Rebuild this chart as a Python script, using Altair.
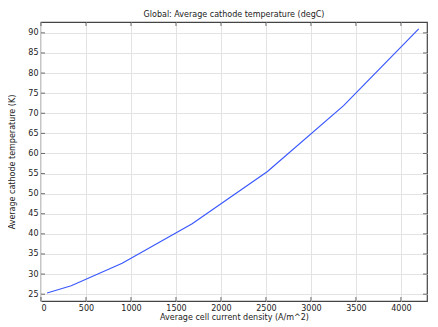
import altair as alt
import pandas as pd

current = [67, 336, 902, 1680, 2517, 3363, 4198]
temperature = [25.3, 27.1, 32.7, 42.5, 55.5, 71.9, 91.0]

x_ticks = [0, 500, 1000, 1500, 2000, 2500, 3000, 3500, 4000]
y_ticks = [25, 30, 35, 40, 45, 50, 55, 60, 65, 70, 75, 80, 85, 90]

df = pd.DataFrame({"x": current, "y": temperature})
xdom = [0, 4290]
ydom = [23.3, 92.7]

xs = alt.Scale(domain=xdom, nice=False, zero=False)
ys = alt.Scale(domain=ydom, nice=False, zero=False)

font = "DejaVu Sans"
W, H = 386, 279

xax = alt.Axis(
    values=x_ticks, title="Average cell current density (A/m^2)", format="d",
    grid=True, gridColor="#e3e3e3", tickSize=0, labelPadding=3, labelOverlap=False,
    domain=False, labelFontSize=8, titleFontSize=8, titleFontWeight="normal",
    titlePadding=1, labelFont=font, titleFont=font, labelColor="#222", titleColor="#222")
yax = alt.Axis(
    values=y_ticks, title="Average cathode temperature (K)",
    grid=True, gridColor="#e3e3e3", tickSize=0, labelPadding=3, labelOverlap=False,
    domain=False, labelFontSize=8, titleFontSize=8, titleFontWeight="normal",
    titleX=-25, labelFont=font, titleFont=font, labelColor="#222", titleColor="#222")

line = alt.Chart(df).mark_line(color="#3a58ff", strokeWidth=1.2).encode(
    x=alt.X("x:Q", scale=xs, axis=xax),
    y=alt.Y("y:Q", scale=ys, axis=yax),
)

xt = pd.DataFrame({"v": x_ticks})
yt = pd.DataFrame({"v": y_ticks})

tk = dict(color="#333", size=4, thickness=1)
tick_bottom = alt.Chart(xt).mark_tick(orient="vertical", yOffset=-2, **tk).encode(
    x=alt.X("v:Q", scale=xs, axis=xax), y=alt.value(H))
tick_top = alt.Chart(xt).mark_tick(orient="vertical", yOffset=2, **tk).encode(
    x=alt.X("v:Q", scale=xs, axis=xax), y=alt.value(0))
tick_left = alt.Chart(yt).mark_tick(orient="horizontal", xOffset=2, **tk).encode(
    y=alt.Y("v:Q", scale=ys, axis=yax), x=alt.value(0))
tick_right = alt.Chart(yt).mark_tick(orient="horizontal", xOffset=-2, **tk).encode(
    y=alt.Y("v:Q", scale=ys, axis=yax), x=alt.value(W))

chart = alt.layer(line, tick_bottom, tick_top, tick_left, tick_right).properties(
    width=W, height=H,
    title=alt.TitleParams("Global: Average cathode temperature (degC)", fontSize=8,
                          font=font, fontWeight="normal", color="#222", offset=3),
    autosize=alt.AutoSizeParams(type="none"),
    padding={"left": 33, "top": 14, "right": 3, "bottom": 22},
).configure_view(stroke="#444", strokeWidth=1.2)

chart.save("out.html", embed_options={"renderer": "svg", "actions": False})
